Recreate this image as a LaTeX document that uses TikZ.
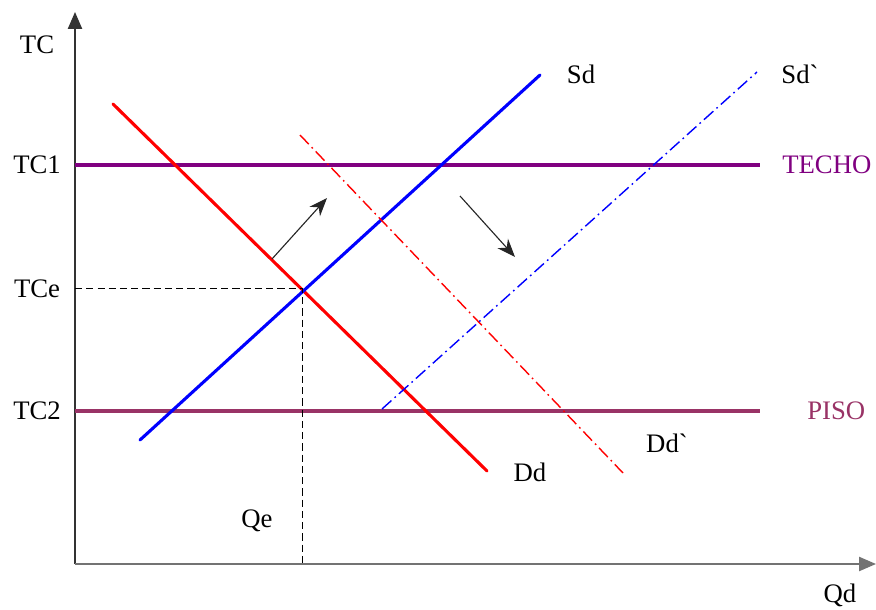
\documentclass[tikz,border=0pt]{standalone}
\usepackage{fontspec}
\setmainfont{Liberation Serif}[Ligatures=TeXOff]
\usetikzlibrary{arrows.meta}

\definecolor{techo}{RGB}{128,0,128}
\definecolor{piso}{RGB}{153,51,102}

\tikzset{
	etiqueta/.style={inner sep=0pt, font=\fontsize{19}{22}\selectfont},
	curva/.style={line width=2.2pt, line cap=round},
	desplazada/.style={line width=1pt, dash pattern=on 9pt off 3pt on 1.2pt off 3pt},
	limite/.style={line width=2.2pt},
	guia/.style={thin, dashed, dash pattern=on 5pt off 3pt}
}

\begin{document}
\begin{tikzpicture}[x=0.025cm, y=-0.025cm, >=Stealth]
			
			\useasboundingbox (0,0) rectangle (876,610);
			
			\coordinate (O) at (75,564);
			\coordinate (ejeY) at (75,12);
			\coordinate (ejeX) at (876,564);
			
			% ejes
			\draw[-{Triangle[length=12pt,width=10pt]}, line width=1.3pt, black!80] (O) -- (ejeY);
			\draw[-{Triangle[length=12pt,width=10pt]}, line width=1.3pt, black!55] (O) -- (ejeX);
			\node[etiqueta] (tc) at (37,45) {TC};
			\node[etiqueta] (qd) at (840,595) {Qd};
			
			% techo y piso
			\coordinate (T1) at (75,165);
			\coordinate (T2) at (760,165);
			\coordinate (P1) at (75,411);
			\coordinate (P2) at (760,411);
			\draw[limite, techo] (T1) -- (T2);
			\draw[limite, piso] (P1) -- (P2);
			\node[etiqueta] (tc1) at (37,165) {TC1};
			\node[etiqueta] (tc2) at (37,411) {TC2};
			\node[etiqueta, anchor=west, text=techo] (lbtecho) at (782,165) {TECHO};
			\node[etiqueta, anchor=west, text=piso] (lbpiso) at (807,411) {PISO};
			
			% demanda y oferta
			\coordinate (D1) at (113,104);
			\coordinate (D2) at (487,471);
			\coordinate (S1) at (140,440);
			\coordinate (S2) at (540,75);
			\draw[curva, red] (D1) -- (D2);
			\draw[curva, blue] (S1) -- (S2);
			\node[etiqueta] (dd) at (530,472) {Dd};
			\node[etiqueta] (sd) at (581,74) {Sd};
			
			% curvas desplazadas
			\coordinate (Dp1) at (300,135);
			\coordinate (Dp2) at (623,473);
			\coordinate (Sp1) at (382,409);
			\coordinate (Sp2) at (757,72);
			\draw[desplazada, red] (Dp1) -- (Dp2);
			\draw[desplazada, blue] (Sp1) -- (Sp2);
			\node[etiqueta] (ddp) at (667,443) {Dd`};
			\node[etiqueta] (sdp) at (800,74) {Sd`};
			
			% equilibrio
			\coordinate (E) at (302,288);
			\coordinate (Ey) at (75,288);
			\coordinate (Ex) at (302,564);
			\draw[guia] (Ey) -- (E) -- (Ex);
			\node[etiqueta] (tce) at (37,289) {TCe};
			\node[etiqueta] (qe) at (257,521) {Qe};
			
			% movimientos
			\coordinate (A1) at (272,259);
			\coordinate (A2) at (327,198);
			\coordinate (B1) at (460,196);
			\coordinate (B2) at (515,257);
			\draw[-{Stealth[length=13pt,width=10pt]}, line width=0.8pt, black!85] (A1) -- (A2);
			\draw[-{Stealth[length=13pt,width=10pt]}, line width=0.8pt, black!85] (B1) -- (B2);
			
	\end{tikzpicture}
\end{document}
